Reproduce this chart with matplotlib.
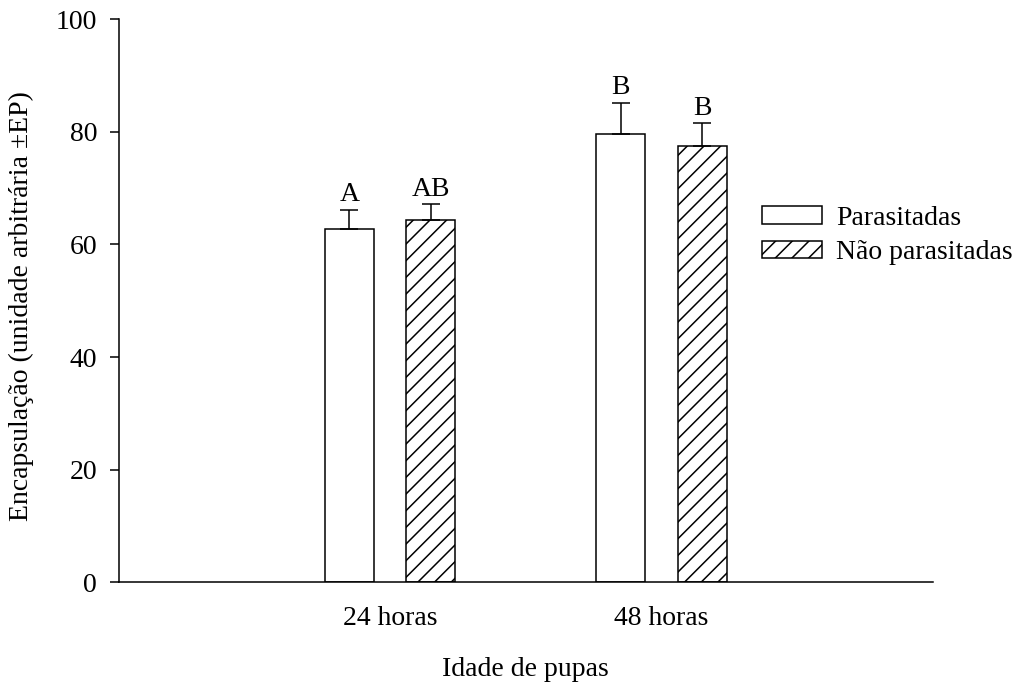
import matplotlib.pyplot as plt
import numpy as np

plt.rcParams['font.family'] = ['Liberation Serif', 'DejaVu Serif']
plt.rcParams['hatch.linewidth'] = 1.1

groups = ['24 horas', '48 horas']
series = ['Parasitadas', 'Não parasitadas']
parasitadas = [62.7, 79.6]
parasitadas_ep = [3.4, 5.5]
nao_parasitadas = [64.3, 77.4]
nao_parasitadas_ep = [2.8, 4.1]
letters_par = ['A', 'B']
letters_nao = ['AB', 'B']

fs = 20

fig = plt.figure(figsize=(10.15, 6.85), dpi=100)
ax = fig.add_axes([0.117, 0.150, 0.802, 0.822])

x = np.arange(1, len(groups) + 1)
w = 0.18
off = 0.15

err_kw = dict(ecolor='black', elinewidth=1.1, capsize=6.5, capthick=1.1)
ax.bar(x - off, parasitadas, w, color='white', edgecolor='black', linewidth=1.1,
       yerr=[np.zeros(2), parasitadas_ep], error_kw=err_kw, label=series[0], zorder=2)
ax.bar(x + off, nao_parasitadas, w, color='white', edgecolor='black', linewidth=1.1,
       hatch='//', yerr=[np.zeros(2), nao_parasitadas_ep], error_kw=err_kw,
       label=series[1], zorder=2)

for i in range(len(groups)):
    ax.annotate(letters_par[i], (x[i] - off, parasitadas[i] + parasitadas_ep[i]),
                xytext=(0, 2), textcoords='offset points', ha='center', va='bottom', fontsize=fs)
    ax.annotate(letters_nao[i], (x[i] + off, nao_parasitadas[i] + nao_parasitadas_ep[i]),
                xytext=(0, 2), textcoords='offset points', ha='center', va='bottom', fontsize=fs)

ax.set_xlim(0, 3)
ax.set_ylim(0, 100)
ax.set_yticks([0, 20, 40, 60, 80, 100])
ax.set_xticks(x)
ax.set_xticklabels(groups)
ax.tick_params(axis='x', length=0, pad=17, labelsize=fs)
ax.tick_params(axis='y', length=6.5, width=1.1, pad=9, labelsize=fs)
for s in ['top', 'right']:
    ax.spines[s].set_visible(False)
for s in ['left', 'bottom']:
    ax.spines[s].set_linewidth(1.1)

ax.set_xlabel('Idade de pupas', fontsize=fs, labelpad=19)
ax.set_ylabel('Encapsulação (unidade arbitrária ±EP)', fontsize=fs)
ax.yaxis.set_label_coords(-0.104, 0.49)

ax.legend(loc='upper left', bbox_to_anchor=(0.751, 0.700), bbox_transform=fig.transFigure,
          frameon=False, fontsize=fs, handlelength=2.15, handleheight=0.6,
          handletextpad=0.5, labelspacing=0.35, borderaxespad=0, borderpad=0)

fig.savefig('out.png', dpi=100)
